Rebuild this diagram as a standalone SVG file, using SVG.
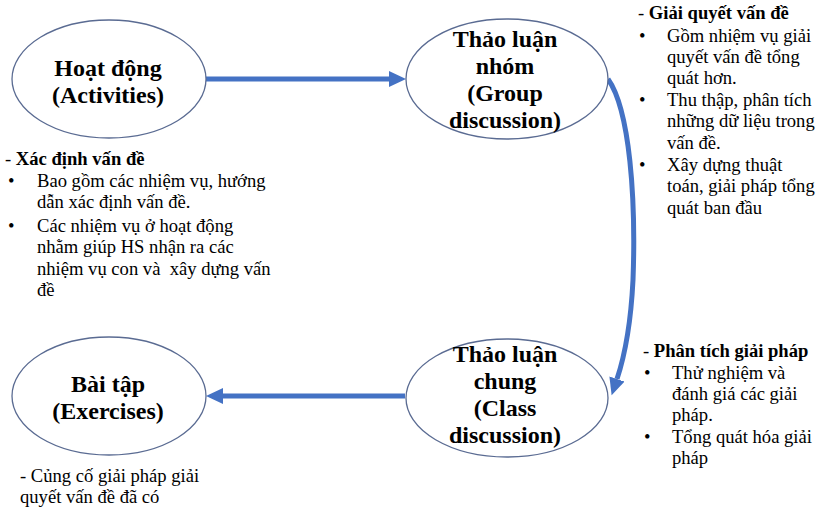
<svg xmlns="http://www.w3.org/2000/svg" width="816" height="507" viewBox="0 0 816 507">
<style>
.node ellipse{fill:#fff;stroke:#5a6b92;stroke-width:1.3}
.lbl{font-family:'Liberation Serif',serif;font-weight:bold;font-size:24px;fill:#000;text-anchor:middle}
.t text{font-family:'Liberation Serif',serif;font-size:18.6px;fill:#000}
.b{font-weight:bold}
.conn{fill:none;stroke:#4472C4;stroke-width:5}
</style>
<defs>
<marker id="ah" markerUnits="userSpaceOnUse" markerWidth="20" markerHeight="18" refX="0" refY="9" orient="auto" viewBox="0 0 20 18">
<path d="M0,1 L17,9 L0,17 z" fill="#4472C4"/>
</marker>
</defs>
<rect width="816" height="507" fill="#fff"/>
<g id="connectors">
<path class="conn" d="M206,79 L389,79" marker-end="url(#ah)"/>
<path class="conn" d="M608,79 C630,110 636,200 633,280 C631,320 625,355 617,379" marker-end="url(#ah)"/>
<path class="conn" d="M405,396 L223,396" marker-end="url(#ah)"/>
</g>
<g id="node-hoatdong" class="node">
<ellipse cx="109" cy="79" rx="97" ry="59"/>
<text class="lbl" x="108" y="76">Hoạt động</text>
<text class="lbl" x="108" y="103">(Activities)</text>
</g>
<g id="node-nhom" class="node">
<ellipse cx="507" cy="79" rx="101" ry="60"/>
<text class="lbl" x="505" y="47">Thảo luận</text>
<text class="lbl" x="505" y="74">nhóm</text>
<text class="lbl" x="505" y="101">(Group</text>
<text class="lbl" x="505" y="128">discussion)</text>
</g>
<g id="node-chung" class="node">
<ellipse cx="507" cy="398" rx="101" ry="59"/>
<text class="lbl" x="505" y="362">Thảo luận</text>
<text class="lbl" x="505" y="389">chung</text>
<text class="lbl" x="505" y="416">(Class</text>
<text class="lbl" x="505" y="443">discussion)</text>
</g>
<g id="node-baitap" class="node">
<ellipse cx="109" cy="396" rx="97" ry="59"/>
<text class="lbl" x="108" y="392">Bài tập</text>
<text class="lbl" x="108" y="419">(Exercises)</text>
</g>
<g id="note-xacdinh" class="t">
<text x="5" y="165">- <tspan class="b">Xác định vấn đề</tspan></text>
<text x="8" y="187">•</text>
<text x="37" y="187">Bao gồm các nhiệm vụ, hướng</text>
<text x="37" y="208">dẫn xác định vấn đề.</text>
<text x="8" y="232">•</text>
<text x="37" y="232">Các nhiệm vụ ở hoạt động</text>
<text x="37" y="253">nhằm giúp HS nhận ra các</text>
<text x="37" y="275" xml:space="preserve">nhiệm vụ con và  xây dựng vấn</text>
<text x="37" y="296">đề</text>
</g>
<g id="note-giaiquyet" class="t">
<text x="638" y="19">- <tspan class="b">Giải quyết vấn đề</tspan></text>
<text x="639" y="42">•</text>
<text x="667" y="42">Gồm nhiệm vụ giải</text>
<text x="667" y="63">quyết vấn đề tổng</text>
<text x="667" y="84">quát hơn.</text>
<text x="639" y="106">•</text>
<text x="667" y="106">Thu thập, phân tích</text>
<text x="667" y="127">những dữ liệu trong</text>
<text x="667" y="149">vấn đề.</text>
<text x="639" y="171">•</text>
<text x="667" y="171">Xây dựng thuật</text>
<text x="667" y="192">toán, giải pháp tổng</text>
<text x="667" y="214">quát ban đầu</text>
</g>
<g id="note-phantich" class="t">
<text x="643" y="357">- <tspan class="b">Phân tích giải pháp</tspan></text>
<text x="644" y="379">•</text>
<text x="672" y="379">Thử nghiệm và</text>
<text x="672" y="400">đánh giá các giải</text>
<text x="672" y="421">pháp.</text>
<text x="644" y="443">•</text>
<text x="672" y="443">Tổng quát hóa giải</text>
<text x="672" y="464">pháp</text>
</g>
<g id="note-cungco" class="t">
<text x="20" y="482">- Củng cố giải pháp giải</text>
<text x="20" y="503">quyết vấn đề đã có</text>
</g>
</svg>
